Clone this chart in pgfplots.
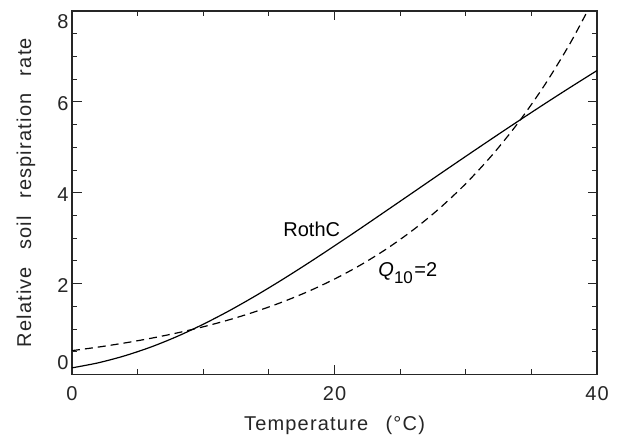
\documentclass[border=0pt]{standalone}
\usepackage{pgfplots}
\pgfplotsset{compat=1.18}
\usepackage{fontspec}
\setmainfont{Liberation Sans}
\newfontfamily\axisfont[LetterSpace=6,WordSpace=2.5]{Liberation Sans}
\newfontfamily\xaxisfont[LetterSpace=6,WordSpace=1.6]{Liberation Sans}

% RothC temperature modifier and a Q10 = 2 exponential response
\pgfplotstableread{
T    rate
0    0.146
2    0.257
4    0.410
6    0.603
8    0.836
10   1.106
12   1.406
14   1.734
16   2.084
18   2.451
20   2.831
22   3.219
24   3.614
26   4.010
28   4.407
30   4.801
32   5.191
34   5.576
36   5.955
38   6.326
40   6.689
}\rothc

\pgfplotstableread{
T    rate
0    0.525
2    0.603
4    0.693
6    0.796
8    0.914
10   1.050
12   1.206
14   1.386
16   1.592
18   1.828
20   2.100
22   2.412
24   2.771
26   3.183
28   3.656
30   4.200
32   4.825
34   5.542
36   6.366
38   7.313
40   8.400
}\qten

\begin{document}
\begin{tikzpicture}
\begin{axis}[
  scale only axis,
  width=525bp, height=363.5bp,
  xmin=0, xmax=40, ymin=0, ymax=8,
  xtick={0,20,40}, xticklabels={0,20,40},
  minor xtick={5,10,15,25,30,35},
  ytick={0,2,4,6,8},
  yticklabels={\raisebox{14bp}[\height][\depth]{0},2,4,6,\raisebox{-9bp}[\height][\depth]{8}},
  minor ytick={0.5,1,1.5,2.5,3,3.5,4.5,5,5.5,6.5,7,7.5},
  tick align=inside,
  major tick length=9.5bp, minor tick length=5bp,
  every tick/.style={line width=1bp, black!85},
  axis line style={line width=1.4bp, black!85},
  ticklabel style={font=\axisfont\fontsize{20bp}{24bp}\selectfont, text=black!85},
  xticklabel style={anchor=center, yshift=-19.5bp},
  yticklabel style={anchor=east, yshift=-2bp},
  xlabel={Temperature (°C)},
  ylabel={Relative soil respiration rate},
  label style={font=\axisfont\fontsize{20bp}{24bp}\selectfont, text=black!85},
  xlabel style={font=\xaxisfont\fontsize{20bp}{24bp}\selectfont, at={(axis description cs:0.5,-0.139)}, anchor=center},
  ylabel style={at={(axis description cs:-0.0876,0.5)}, anchor=center},
]
\addplot[black, line width=1.2bp, smooth] table[x=T, y=rate] {\rothc};
\addplot[black, line width=1.2bp, smooth, dash pattern=on 8bp off 5bp] table[x=T, y=rate] {\qten};

\node[anchor=base west, font=\fontsize{20bp}{24bp}\selectfont] at (axis cs:15.84,3.035) {RothC};
\node[anchor=base west, font=\fontsize{20bp}{24bp}\selectfont] at (axis cs:23.08,2.15)
  {\textit{Q}\raisebox{-6.5bp}{\fontsize{17bp}{20bp}\selectfont 10}\hspace{1.5bp}=2};
\end{axis}
\path ([shift={(-72bp,-65.5bp)}]current axis.south west) rectangle ([shift={(24bp,11bp)}]current axis.north east);
\end{tikzpicture}
\end{document}
